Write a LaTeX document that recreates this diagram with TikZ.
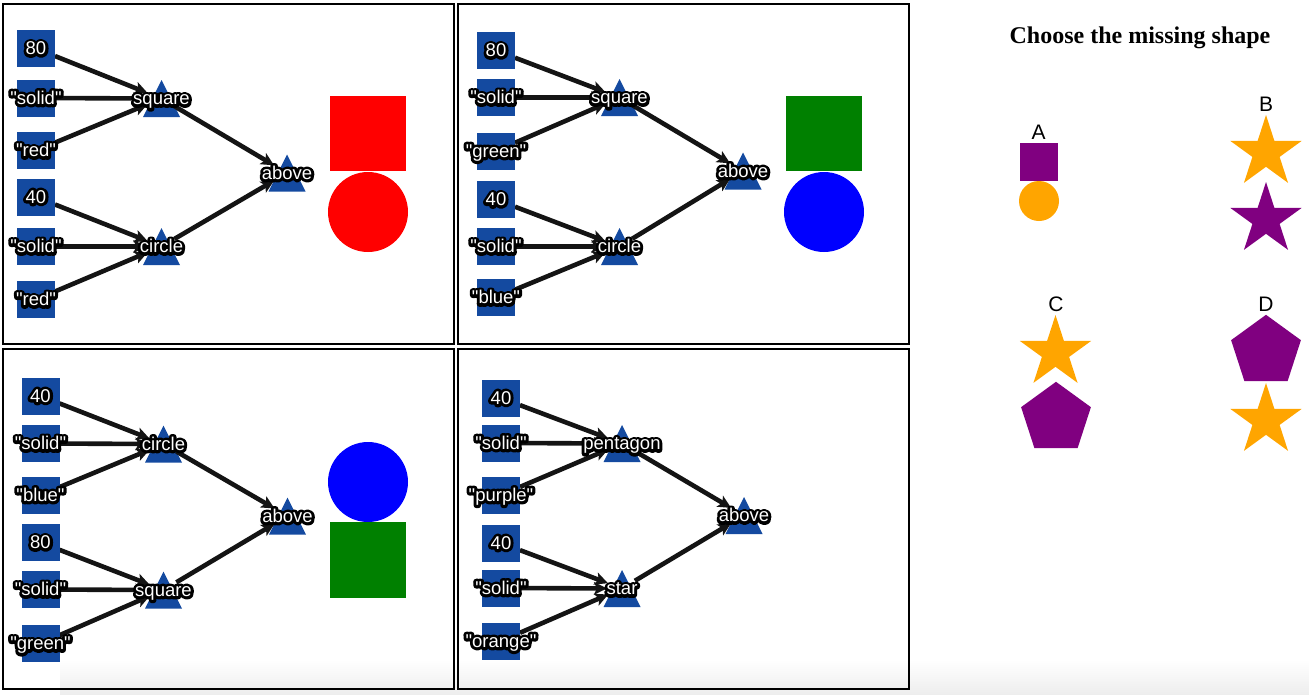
\documentclass[tikz,border=0pt]{standalone}
\usepackage{fontspec}
\setmainfont{Liberation Sans}
\newfontfamily\serifttl{Liberation Serif}
\newfontfamily\lab{Liberation Sans}
\newfontfamily\labout{Liberation Sans}[FakeBold=32]
\usetikzlibrary{arrows.meta}
\definecolor{nblue}{RGB}{20,74,160}
\definecolor{sgreen}{RGB}{0,128,0}
\definecolor{sorange}{RGB}{255,165,0}
\definecolor{spurple}{RGB}{128,0,128}
\definecolor{sblue}{RGB}{0,0,255}
\definecolor{sred}{RGB}{255,0,0}
\pgfdeclarelayer{bg}
\pgfsetlayers{bg,main}
\newcommand\halo[1]{\rlap{\labout\color{black}#1}\textcolor{white}{\lab #1}}
\newcommand\lb[1]{\makebox[0pt]{\halo{#1}}}
\newcommand\trifill[1]{\fill[nblue] ([shift={(0,-18.5)}]#1.center) -- ([shift={(18.5,18.5)}]#1.center) -- ([shift={(-18.5,18.5)}]#1.center) -- cycle;}
\tikzset{
 every node/.style={inner sep=0pt, outer sep=0pt},
 vbox/.style={rectangle, fill=nblue, minimum width=38pt, minimum height=37pt, text height=12.8pt, text depth=0pt, line join=round, font=\fontsize{18.5}{18.5}\selectfont},
 fnode/.style={circle, minimum size=30pt, text height=12.8pt, text depth=0pt, line join=round, font=\fontsize{18.5}{18.5}\selectfont},
 arr/.style={draw=black!92, line width=4.6pt, -{Stealth[length=13pt,width=12.5pt,inset=3pt]}},
 panel/.style={draw=black, line width=1.3pt},
 letter/.style={anchor=base, font=\fontsize{21}{21}\selectfont},
 pics/starp/.style={code={\fill[#1] (-90:37.5) -- (-54:14.3) -- (-18:37.5) -- (18:14.3) -- (54:37.5) -- (90:14.3) -- (126:37.5) -- (162:14.3) -- (198:37.5) -- (234:14.3) -- cycle;}},
 pics/pentp/.style={code={\fill[#1] (-90:36.7) -- (-18:36.7) -- (54:36.7) -- (126:36.7) -- (198:36.7) -- cycle;}},
}
\begin{document}
\begin{tikzpicture}[x=1pt,y=-1pt]
\begin{pgfonlayer}{bg}
\fill[white] (0,0) rectangle (1309,694);
\shade[top color=white, bottom color=black!7] (60,660) rectangle (1309,694);
\end{pgfonlayer}
\useasboundingbox (0,0) rectangle (1309,694);
% panels
\draw[panel] (3,4) rectangle (454,344);
\draw[panel] (458,4) rectangle (909,344);
\draw[panel] (3,349) rectangle (454,689);
\draw[panel] (458,349) rectangle (909,689);
% ---------- panel 1
\node[vbox] (p1a) at (36,48.5) {\lb{80}};
\node[vbox] (p1b) at (36,98) {\lb{"solid"}};
\node[vbox] (p1c) at (36,150.5) {\lb{"red"}};
\node[vbox] (p1d) at (36,197) {\lb{40}};
\node[vbox] (p1e) at (36,246.5) {\lb{"solid"}};
\node[vbox] (p1f) at (36,299.5) {\lb{"red"}};
\node[fnode] (p1s) at (161.5,98.5) {\lb{square}};
\node[fnode] (p1t) at (161.5,246.5) {\lb{circle}};
\node[fnode] (p1u) at (287,173) {\lb{above}};
\fill[sred] (330,96) rectangle (406,171);
\fill[sred] (368,212) circle (40pt);
% ---------- panel 2
\node[vbox] (p2a) at (496,50.5) {\lb{80}};
\node[vbox] (p2b) at (496,97.5) {\lb{"solid"}};
\node[vbox] (p2c) at (496,151) {\lb{"green"}};
\node[vbox] (p2d) at (496,199.5) {\lb{40}};
\node[vbox] (p2e) at (496,246.5) {\lb{"solid"}};
\node[vbox] (p2f) at (496,297.5) {\lb{"blue"}};
\node[fnode] (p2s) at (619.5,97.5) {\lb{square}};
\node[fnode] (p2t) at (619.5,246.5) {\lb{circle}};
\node[fnode] (p2u) at (743,171) {\lb{above}};
\fill[sgreen] (786,96) rectangle (862,171);
\fill[sblue] (824,212) circle (40pt);
% ---------- panel 3
\node[vbox] (p3a) at (40.5,396) {\lb{40}};
\node[vbox] (p3b) at (40.5,443.5) {\lb{"solid"}};
\node[vbox] (p3c) at (40.5,495) {\lb{"blue"}};
\node[vbox] (p3d) at (40.5,542.5) {\lb{80}};
\node[vbox] (p3e) at (40.5,589.5) {\lb{"solid"}};
\node[vbox] (p3f) at (40.5,643.5) {\lb{"green"}};
\node[fnode] (p3s) at (163.5,444) {\lb{circle}};
\node[fnode] (p3t) at (163.5,590) {\lb{square}};
\node[fnode] (p3u) at (287.5,516) {\lb{above}};
\fill[sblue] (368,482) circle (40pt);
\fill[sgreen] (330,522) rectangle (406,598);
% ---------- panel 4
\node[vbox] (p4a) at (501,398) {\lb{40}};
\node[vbox] (p4b) at (501,443) {\lb{"solid"}};
\node[vbox] (p4c) at (501,495) {\lb{"purple"}};
\node[vbox] (p4d) at (501,543) {\lb{40}};
\node[vbox] (p4e) at (501,588) {\lb{"solid"}};
\node[vbox] (p4f) at (501,641) {\lb{"orange"}};
\node[fnode] (p4s) at (622,443.5) {\lb{pentagon}};
\node[fnode] (p4t) at (622,588.5) {\lb{star}};
\node[fnode] (p4u) at (744,515.5) {\lb{above}};
% triangles and connectors underneath labels
\begin{pgfonlayer}{bg}
\foreach \p in {1,2,3,4}{
  \trifill{p\p s}
  \trifill{p\p t}
  \trifill{p\p u}
  \draw[arr] (p\p a) -- (p\p s);
  \draw[arr] (p\p b) -- (p\p s);
  \draw[arr] (p\p c) -- (p\p s);
  \draw[arr] (p\p d) -- (p\p t);
  \draw[arr] (p\p e) -- (p\p t);
  \draw[arr] (p\p f) -- (p\p t);
  \draw[arr] (p\p s) -- (p\p u);
  \draw[arr] (p\p t) -- (p\p u);
}
\end{pgfonlayer}
% ---------- answers
\node[anchor=base, font=\serifttl\bfseries\fontsize{24}{24}\selectfont] (title) at (1140,43) {Choose the missing shape};
\node[letter] (la) at (1038.5,139) {A};
\node[letter] (lb) at (1266,111) {B};
\node[letter] (lc) at (1056,311) {C};
\node[letter] (ld) at (1266,311) {D};
\fill[spurple] (1020,143) rectangle (1058,181);
\fill[sorange] (1039,201) circle (20pt);
\pic at (1266,152.5) {starp=sorange};
\pic at (1266,219.5) {starp=spurple};
\pic at (1055.5,352.5) {starp=sorange};
\pic at (1056,418.5) {pentp=spurple};
\pic at (1266,351.5) {pentp=spurple};
\pic at (1266,420.5) {starp=sorange};
\end{tikzpicture}
\end{document}
